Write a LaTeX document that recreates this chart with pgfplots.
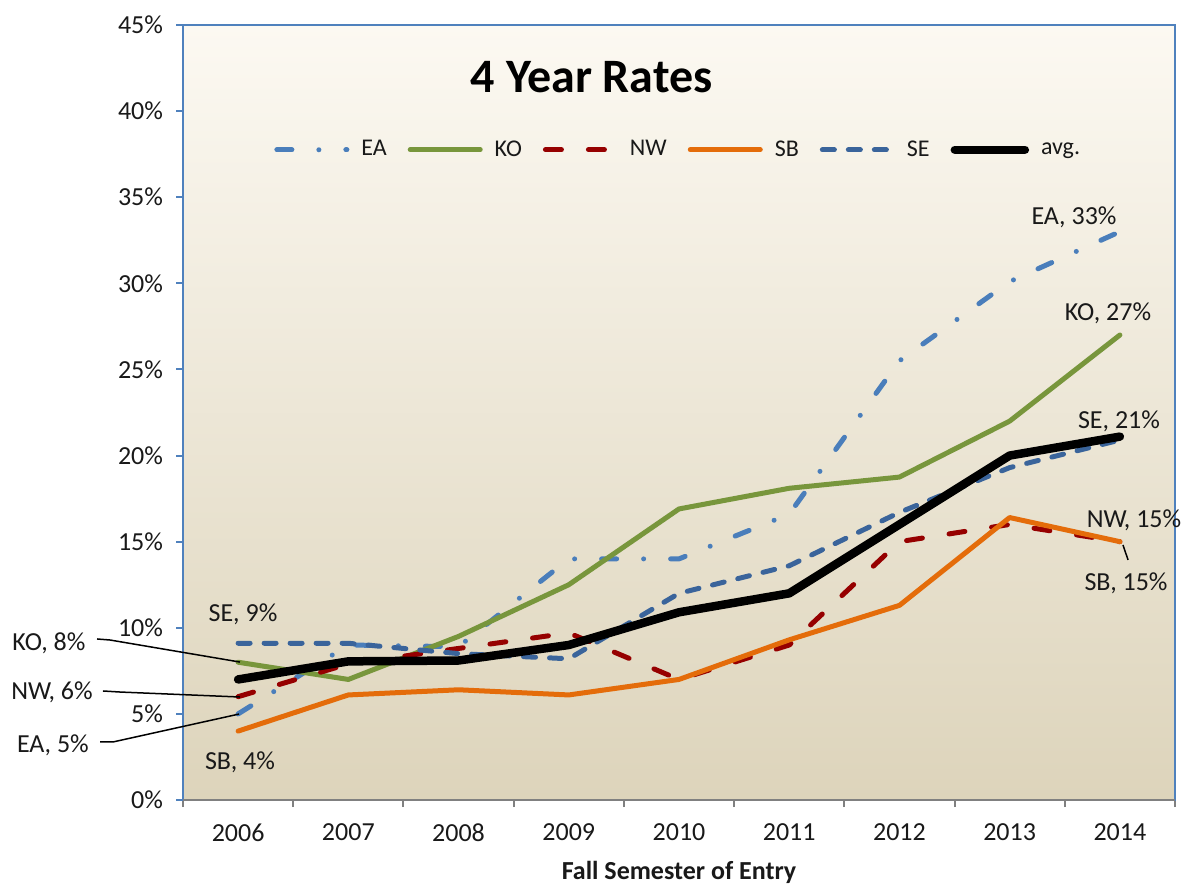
\documentclass[border=0pt]{standalone}
\usepackage{fontspec}
\setmainfont{Carlito}
\usepackage{pgfplots}
\usepackage{pgfplotstable}
\pgfplotsset{compat=1.18}

\definecolor{eablue}{RGB}{74,126,187}
\definecolor{kogreen}{RGB}{120,150,60}
\definecolor{nwred}{RGB}{150,0,0}
\definecolor{sborange}{RGB}{228,108,10}
\definecolor{seblue}{RGB}{58,100,155}
\definecolor{axblue}{RGB}{79,129,189}
\definecolor{bgtop}{RGB}{252,249,242}
\definecolor{bgbot}{RGB}{221,212,187}
\definecolor{txt}{RGB}{25,25,25}

\pgfplotstableread{
year EA KO NW SB SE avg
2006 5.0 8.0 6.0 4.0 9.1 7.0
2007 9.0 7.0 7.9 6.1 9.1 8.05
2008 8.9 9.5 8.8 6.4 8.5 8.1
2009 14.0 12.5 9.7 6.1 8.2 9.0
2010 14.0 16.9 7.0 7.0 12.0 10.9
2011 16.6 18.1 9.0 9.3 13.6 12.0
2012 25.5 18.75 15.0 11.3 16.7 16.0
2013 30.1 22.0 16.0 16.4 19.3 20.0
2014 33.0 27.0 15.0 15.0 20.9 21.1
}\data

\begin{document}
\begin{tikzpicture}
\begin{axis}[
  scale only axis, width=496pt, height=387.5pt,
  xmin=2005.5, xmax=2014.5, ymin=0, ymax=45,
  clip=false,
  axis background/.style={shade, top color=bgtop, bottom color=bgbot},
  axis line style={axblue, line width=1pt},
  xtick={2005.5,2006.5,2007.5,2008.5,2009.5,2010.5,2011.5,2012.5,2013.5,2014.5},
  xticklabels={2006,2007,2008,2009,2010,2011,2012,2013,2014},
  x tick label as interval,
  ytick={0,5,10,15,20,25,30,35,40,45},
  yticklabel={\pgfmathprintnumber{\tick}\%},
  /pgf/number format/assume math mode=true,
  tick align=outside,
  major tick length=3.5pt,
  xtick style={draw=gray, line width=1pt},
  ytick style={draw=axblue, line width=1pt},
  ticklabel style={font=\fontsize{13}{15}\selectfont, text=txt},
  xticklabel style={yshift=-5pt},
  yticklabel style={xshift=-3pt},
  xtick pos=bottom, ytick pos=left,
  xlabel={Fall Semester of Entry},
  xlabel style={font=\bfseries\fontsize{13}{15}\selectfont, text=txt, yshift=-3pt},
  legend columns=6,
  legend style={draw=none, fill=none, at={(0.0917,0.839)}, anchor=west,
    font=\fontsize{12}{14}\selectfont, text=txt, inner sep=0pt,
    /tikz/every even column/.append style={column sep=8.5pt}},
  legend image code/.code={\draw[#1] (0pt,0pt) -- (35pt,0pt); \path (39pt,0pt);},
  every axis plot/.append style={line width=2.5pt, line cap=round, line join=round},
]
\addplot[eablue, dash pattern=on 7.5pt off 13.5pt on 0pt off 13.5pt] table[x=year,y=EA] {\data};
\addlegendentry{EA}
\addplot[kogreen] table[x=year,y=KO] {\data};
\addlegendentry{KO}
\addplot[nwred, dash pattern=on 8pt off 13.5pt] table[x=year,y=NW] {\data};
\addlegendentry{NW}
\addplot[sborange] table[x=year,y=SB] {\data};
\addlegendentry{SB}
\addplot[seblue, dash pattern=on 6pt off 7pt] table[x=year,y=SE] {\data};
\addlegendentry{SE}
\addplot[black, line width=4.25pt] table[x=year,y=avg] {\data};
\addlegendentry{avg.}

\draw[gray, line width=1pt] (rel axis cs:0,0) -- (rel axis cs:1,0);

\node[font=\bfseries\fontsize{24}{29}\selectfont, text=black] at (rel axis cs:0.412,0.933) {4 Year Rates};

\begin{scope}[every node/.style={font=\fontsize{13}{15}\selectfont, text=txt, anchor=base, inner sep=0pt}]
\node at (axis cs:2013.584,33.39) {EA, 33\%};
\node at (axis cs:2013.892,27.87) {KO, 27\%};
\node at (axis cs:2013.992,21.60) {SE, 21\%};
\node at (axis cs:2014.128,15.85) {NW, 15\%};
\node at (axis cs:2014.056,12.19) {SB, 15\%};
\node at (axis cs:2006.044,10.34) {SE, 9\%};
\node at (axis cs:2004.284,8.71) {KO, 8\%};
\node at (axis cs:2004.311,5.81) {NW, 6\%};
\node at (axis cs:2004.320,2.73) {EA, 5\%};
\node at (axis cs:2006.017,1.80) {SB, 4\%};
\end{scope}
\draw[black, line width=0.75pt] (axis cs:2014.028,14.81) -- (axis cs:2014.074,13.94);
\draw[black, line width=0.75pt] (axis cs:2004.720,9.35) -- (axis cs:2004.838,9.29) -- (axis cs:2006.017,8.01);
\draw[black, line width=0.75pt] (axis cs:2004.774,6.33) -- (axis cs:2004.928,6.27) -- (axis cs:2006.017,5.98);
\draw[black, line width=0.75pt] (axis cs:2004.747,3.37) -- (axis cs:2004.865,3.37) -- (axis cs:2006.008,4.99);
\end{axis}
\pgfresetboundingbox
\path[use as bounding box] ([shift={(-91.5pt,-44pt)}]current axis.south west) rectangle ([shift={(8pt,12.5pt)}]current axis.north east);
\end{tikzpicture}
\end{document}
